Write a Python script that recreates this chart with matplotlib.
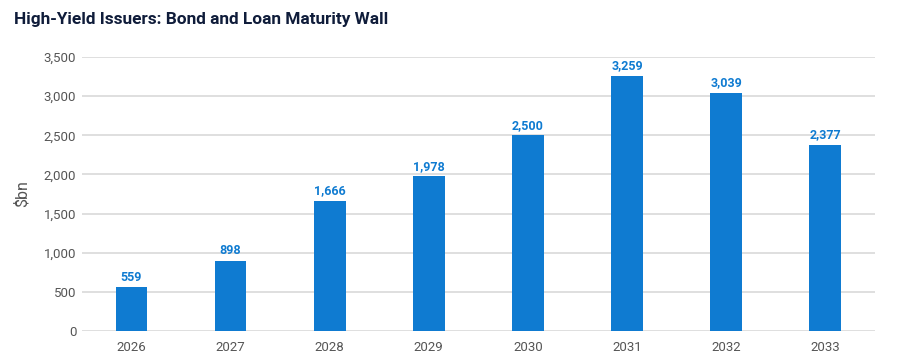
import matplotlib
matplotlib.use("Agg")
import matplotlib.pyplot as plt
from matplotlib.ticker import FuncFormatter

years = ["2026", "2027", "2028", "2029", "2030", "2031", "2032", "2033"]
maturities = [559, 898, 1666, 1978, 2500, 3259, 3039, 2377]
y_ticks = [0, 500, 1000, 1500, 2000, 2500, 3000, 3500]

BAR_COLOR = "#0f7bd1"
TEXT_GRAY = "#555555"

plt.rcParams["font.family"] = ["Roboto", "DejaVu Sans"]

fig = plt.figure(figsize=(9, 3.61), dpi=100)
ax = fig.add_axes([0.091, 0.083, 0.881, 0.759])

x = list(range(len(years)))
ax.bar(x, maturities, width=0.32, color=BAR_COLOR, zorder=3)

for xi, v in zip(x, maturities):
    ax.text(xi, v + 45, f"{v:,}", ha="center", va="bottom",
            color=BAR_COLOR, fontsize=9, fontweight="bold")

ax.set_xlim(-0.5, len(years) - 0.5)
ax.set_ylim(0, 3500)
ax.set_yticks(y_ticks)
ax.yaxis.set_major_formatter(FuncFormatter(lambda v, _: f"{int(v):,}"))
ax.set_xticks(x)
ax.set_xticklabels(years)

ax.grid(axis="y", color="#d9d9d9", linewidth=1.2, zorder=0)
for side in ["top", "right", "left", "bottom"]:
    ax.spines[side].set_visible(False)
ax.tick_params(axis="both", length=0, labelsize=9.5, colors=TEXT_GRAY)
ax.tick_params(axis="y", pad=4)
ax.tick_params(axis="x", pad=7)

ax.set_ylabel("$bn", fontsize=11.5, color=TEXT_GRAY, labelpad=10)

fig.text(0.015, 0.945, "High-Yield Issuers: Bond and Loan Maturity Wall",
         fontsize=12.4, fontweight="bold", color="#0f1c3a", va="center")

fig.savefig("out.png", dpi=100)
